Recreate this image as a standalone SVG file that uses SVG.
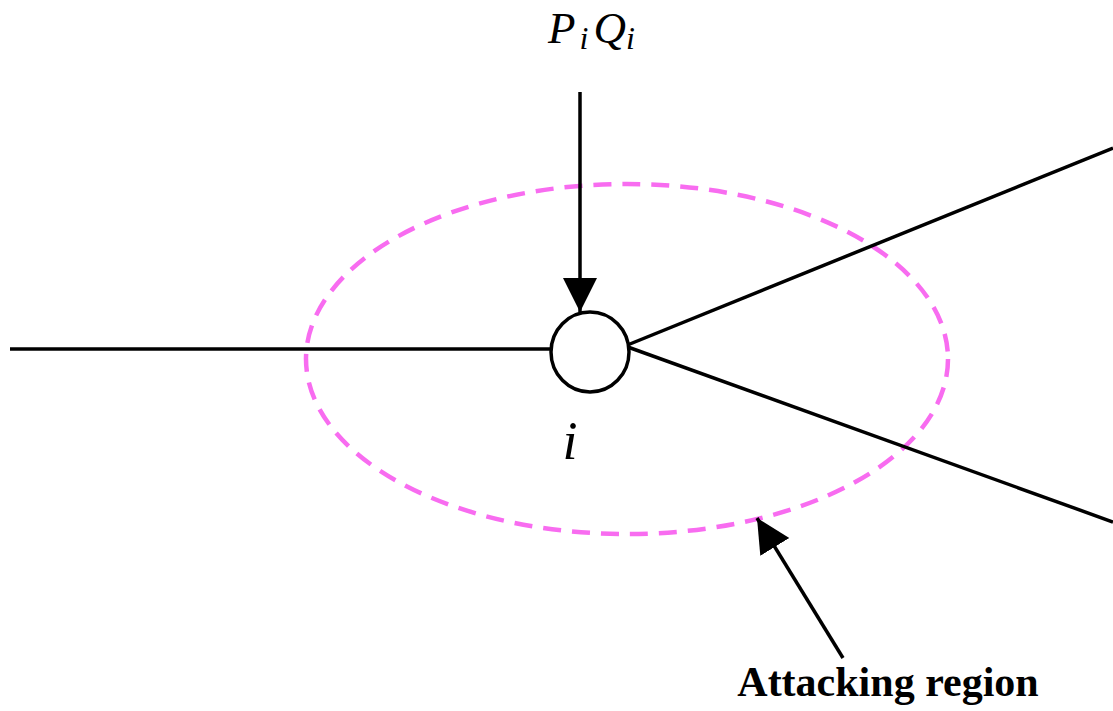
<svg xmlns="http://www.w3.org/2000/svg" width="1113" height="711" viewBox="0 0 1113 711">
<style>
.ln{stroke:#000;stroke-width:3.5;fill:none}
.it{font-family:"Liberation Serif",serif;font-style:italic;fill:#000}
</style>
<defs>
<marker id="ah" markerUnits="userSpaceOnUse" markerWidth="36" markerHeight="36" refX="34" refY="17" orient="auto">
<path d="M0,0 L34,17 L0,34 Z" fill="#000"/>
</marker>
</defs>
<rect width="1113" height="711" fill="#fff"/>
<g id="region">
<ellipse cx="627" cy="359" rx="321" ry="175" fill="none" stroke="#f86cf0" stroke-width="4.5" stroke-dasharray="18,11"/>
</g>
<g id="connectors">
<line class="ln" x1="10" y1="349" x2="551" y2="349"/>
<line class="ln" x1="625" y1="346" x2="1113" y2="148"/>
<line class="ln" x1="625" y1="346" x2="1113" y2="522"/>
<line class="ln" x1="580" y1="92" x2="580" y2="312" marker-end="url(#ah)"/>
<line class="ln" x1="843" y1="658" x2="757" y2="518" marker-end="url(#ah)"/>
</g>
<g id="node-i">
<ellipse cx="590" cy="352" rx="39" ry="40" fill="#fff" stroke="#000" stroke-width="3.5"/>
<text class="it" x="570" y="459" font-size="54" text-anchor="middle">i</text>
</g>
<g id="label-PQ">
<text class="it" x="548" y="43" font-size="45">P<tspan font-size="32" dx="4" dy="6">i</tspan><tspan font-size="45" dx="5" dy="-6">Q</tspan><tspan font-size="32" dy="6">i</tspan></text>
</g>
<g id="label-attack">
<text x="888" y="696" font-family="Liberation Serif,serif" font-weight="bold" font-size="42" text-anchor="middle" fill="#000">Attacking region</text>
</g>
</svg>
